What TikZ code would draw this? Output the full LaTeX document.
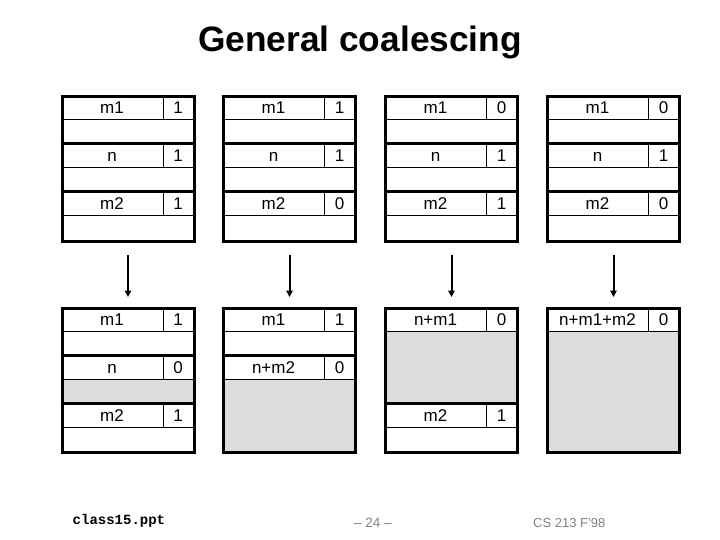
\documentclass[tikz,border=0pt]{standalone}
\usepackage{fontspec}
\setmainfont{Liberation Sans}
\newfontfamily\footmono{Liberation Mono}
\usetikzlibrary{arrows.meta}
\definecolor{freegray}{HTML}{DDDDDD}
\definecolor{footgray}{HTML}{808080}
\tikzset{
  x=1pt, y=-1pt,
  frame/.style={draw, line width=3pt, minimum width=132pt, minimum height=144pt, inner sep=0pt, anchor=north west},
  cellfont/.style={font=\fontsize{17}{17}\selectfont, text height=12pt, text depth=0pt},
  lcell/.style={draw, line width=1pt, minimum width=102pt, minimum height=24pt, inner sep=0pt, anchor=north west, cellfont},
  vcell/.style={draw, line width=1pt, minimum width=30pt, minimum height=24pt, inner sep=0pt, anchor=north west, cellfont},
  sepline/.style={line width=3pt},
  arr/.style={line width=2pt, -{Triangle[length=6.5pt,width=6.5pt]}},
}
% record header: name, left x, top y, label, value
\newcommand\rechead[5]{%
  \node[lcell] (#1l) at (#2,#3) {#4};
  \node[vcell] (#1v) at (#2+102,#3) {#5};
}
\begin{document}
\begin{tikzpicture}
\useasboundingbox (0,0) rectangle (720,540);
\node[font=\fontsize{35.3}{36}\selectfont\bfseries, anchor=base] (title) at (360,52) {General coalescing};

% ---------- top row ----------
\foreach \L/\id/\a/\b/\c in {60.5/ta/1/1/1, 222/tb/1/1/0, 384/tc/0/1/1, 546/td/0/1/0}{
  \rechead{\id1}{\L}{95.5}{m1}{\a}
  \rechead{\id2}{\L}{143.5}{n}{\b}
  \rechead{\id3}{\L}{191.5}{m2}{\c}
  \draw[sepline] (\L,143.5) -- (\L+132,143.5);
  \draw[sepline] (\L,191.5) -- (\L+132,191.5);
}
\node[frame] (topA) at (60.5,95.5) {};
\node[frame] (topB) at (222,95.5) {};
\node[frame] (topC) at (384,95.5) {};
\node[frame] (topD) at (546,95.5) {};

% ---------- bottom row ----------
% block A
\fill[freegray] (60.5,379) rectangle (192.5,403);
\rechead{ba1}{60.5}{307}{m1}{1}
\rechead{ba2}{60.5}{355}{n}{0}
\rechead{ba3}{60.5}{403}{m2}{1}
\draw[sepline] (60.5,355) -- (192.5,355);
\draw[sepline] (60.5,403) -- (192.5,403);
% block B
\fill[freegray] (222,379) rectangle (354,451);
\rechead{bb1}{222}{307}{m1}{1}
\rechead{bb2}{222}{355}{n+m2}{0}
\draw[sepline] (222,355) -- (354,355);
% block C
\fill[freegray] (384,331) rectangle (516,403);
\rechead{bc1}{384}{307}{n+m1}{0}
\rechead{bc2}{384}{403}{m2}{1}
\draw[sepline] (384,403) -- (516,403);
% block D
\fill[freegray] (546,331) rectangle (678,451);
\rechead{bd1}{546}{307}{n+m1+m2}{0}

\node[frame] (botA) at (60.5,307) {};
\node[frame] (botB) at (222,307) {};
\node[frame] (botC) at (384,307) {};
\node[frame] (botD) at (546,307) {};

% ---------- arrows ----------
\foreach \s/\t in {topA/botA, topB/botB, topC/botC, topD/botD}{
  \draw[arr] ([yshift=-12pt]\s.south) -- ([yshift=10pt]\t.north);
}

% ---------- footer ----------
\node[font=\footmono\bfseries\fontsize{14}{14}\selectfont, anchor=base west, inner sep=0pt] (foot1) at (72.5,524) {class15.ppt};
\node[font=\fontsize{13.5}{14}\selectfont, text=footgray, anchor=base, inner sep=0pt] (foot2) at (373,527) {– 24 –};
\node[font=\fontsize{13}{14}\selectfont, text=footgray, anchor=base west, inner sep=0pt] (foot3) at (533,527) {CS 213 F'98};
\end{tikzpicture}
\end{document}
